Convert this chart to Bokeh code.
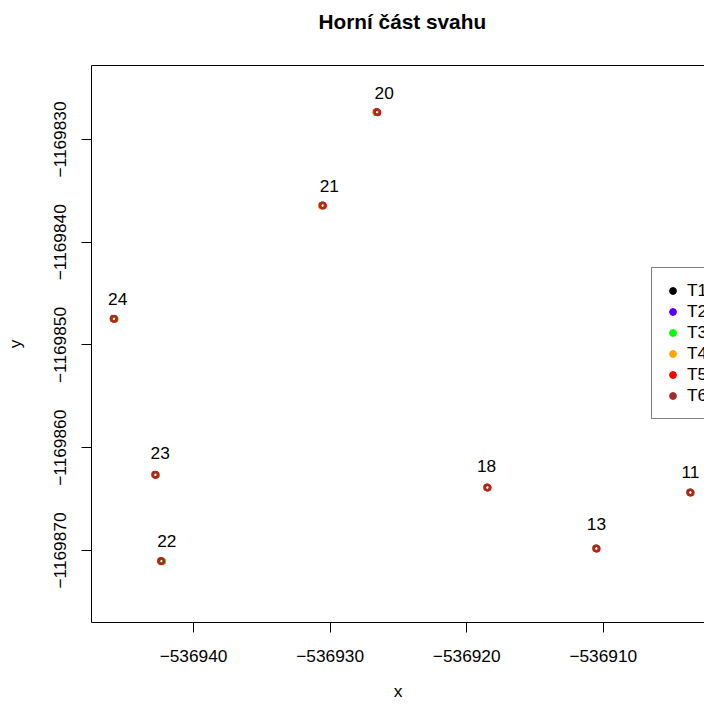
from bokeh.plotting import figure
from bokeh.models import (Range1d, FixedTicker, LinearAxis, Legend, LegendItem,
                          ColumnDataSource, Title)
from bokeh.core.properties import value
from bokeh.embed import file_html
from bokeh.resources import INLINE

# ---------------- data ----------------
point_ids = ["11", "13", "18", "20", "21", "22", "23", "24"]

T1_x = [-536903.62, -536910.50, -536918.48, -536926.60, -536930.58, -536942.36, -536942.80, -536945.84]
T1_y = [-1169864.36, -1169869.81, -1169863.87, -1169827.34, -1169836.42, -1169871.04, -1169862.63, -1169847.45]
T2_x = [-536903.62, -536910.50, -536918.48, -536926.58, -536930.56, -536942.34, -536942.80, -536945.80]
T2_y = [-1169864.36, -1169869.81, -1169863.87, -1169827.34, -1169836.42, -1169871.04, -1169862.63, -1169847.45]
T3_x = [-536903.60, -536910.49, -536918.47, -536926.56, -536930.54, -536942.28, -536942.76, -536945.76]
T3_y = [-1169864.36, -1169869.81, -1169863.87, -1169827.34, -1169836.42, -1169871.06, -1169862.63, -1169847.47]
T4_x = [-536903.66, -536910.55, -536918.53, -536926.64, -536930.62, -536942.40, -536942.84, -536945.88]
T4_y = [-1169864.36, -1169869.81, -1169863.87, -1169827.36, -1169836.44, -1169871.04, -1169862.63, -1169847.45]
T5_x = [-536903.60, -536910.48, -536918.46, -536926.53, -536930.51, -536942.34, -536942.76, -536945.81]
T5_y = [-1169864.38, -1169869.83, -1169863.89, -1169827.37, -1169836.45, -1169871.07, -1169862.66, -1169847.48]
T6_x = [-536903.65, -536910.53, -536918.51, -536926.58, -536930.56, -536942.39, -536942.81, -536945.86]
T6_y = [-1169864.33, -1169869.78, -1169863.84, -1169827.31, -1169836.39, -1169871.01, -1169862.60, -1169847.42]

label_x = [-536903.62, -536910.50, -536918.55, -536926.04, -536930.06, -536941.96, -536942.44, -536945.55]
label_y = [-1169862.41, -1169867.47, -1169861.73, -1169825.52, -1169834.48, -1169869.03, -1169860.49, -1169845.50]

series_names = ["T1", "T2", "T3", "T4", "T5", "T6"]
series_x = [T1_x, T2_x, T3_x, T4_x, T5_x, T6_x]
series_y = [T1_y, T2_y, T3_y, T4_y, T5_y, T6_y]
series_colors = ["#000000", "#5500FF", "#00FF00", "#FFA500", "#FF0000", "#A52A2A"]

x_ticks = [-536940, -536930, -536920, -536910]
y_ticks = [-1169830, -1169840, -1169850, -1169860, -1169870]

x_lim = (-536947.47, -536902.59)
y_lim = (-1169877.01, -1169822.80)

title_text = "Horní část svahu"
x_label_text = "x"
y_label_text = "y"
FONT = "Liberation Sans"
FS = "17.3px"

# ---------------- figure ----------------
p = figure(width=704, height=704, output_backend="svg", toolbar_location=None,
           x_range=Range1d(*x_lim), y_range=Range1d(*y_lim),
           min_border_left=91, min_border_right=0, min_border_top=65, min_border_bottom=82,
           x_axis_label=x_label_text, y_axis_label=y_label_text)
p.background_fill_color = "white"
p.border_fill_color = "white"
p.outline_line_color = None
p.grid.visible = False

def fmt(v):
    s = str(abs(int(v)))
    return ("\u2212" + s) if v < 0 else s

for ax in p.xaxis:
    ax.ticker = FixedTicker(ticks=x_ticks)
    ax.major_label_overrides = {t: fmt(t) for t in x_ticks}
for ax in p.yaxis:
    ax.ticker = FixedTicker(ticks=y_ticks)
    ax.major_label_overrides = {t: fmt(t) for t in y_ticks}
    ax.major_label_orientation = "vertical"

for ax in list(p.xaxis) + list(p.yaxis):
    ax.minor_tick_line_color = None
    ax.major_tick_out = 10
    ax.major_tick_in = 0
    ax.axis_line_color = "black"
    ax.major_tick_line_color = "black"
    ax.major_label_text_font = FONT
    ax.major_label_text_font_size = FS
    ax.major_label_text_color = "black"
    ax.axis_label_text_font = FONT
    ax.axis_label_text_font_size = FS
    ax.axis_label_text_font_style = "normal"
    ax.axis_label_text_color = "black"

p.xaxis.major_label_standoff = 17
p.xaxis.axis_label_standoff = 16
p.yaxis.major_label_standoff = 15
p.yaxis.axis_label_standoff = 27

# top border line
top = LinearAxis(ticker=FixedTicker(ticks=[]), major_label_text_font_size="0px",
                 major_tick_line_color=None, minor_tick_line_color=None,
                 axis_line_color="black")
p.add_layout(top, "above")
# spacer between the frame and the title
p.add_layout(Title(text=" ", text_font_size="1px", standoff=28), "above")
p.add_layout(Title(text=title_text, align="left", offset=227, text_font=FONT,
                   text_font_size="20.8px", text_font_style="bold", text_color="black",
                   vertical_align="top", standoff=0), "above")

# ---------------- points ----------------
legend_items = []
for name, xs, ys, col in zip(series_names, series_x, series_y, series_colors):
    src = ColumnDataSource(dict(x=xs, y=ys))
    p.scatter("x", "y", source=src, marker="circle", size=5.5, fill_color=None,
              line_color=col, line_width=2)
    # legend swatch renderer (filled dot), placed outside the visible range
    dummy = p.scatter(x=[x_lim[0] - 100], y=[y_lim[0] - 100], marker="circle",
                      fill_color=col, line_color=col, size=7)
    legend_items.append(LegendItem(label=name, renderers=[dummy]))

lab_src = ColumnDataSource(dict(x=label_x, y=label_y, t=point_ids))
p.text("x", "y", text="t", source=lab_src, text_align="center", text_baseline="middle",
       text_font=value(FONT), text_font_size=FS, text_color="black")

legend = Legend(items=legend_items, location=(560, 203), padding=12, spacing=0,
                glyph_width=17, glyph_height=17, label_height=17, label_standoff=6,
                label_text_font=FONT, label_text_font_size=FS, label_text_color="black",
                label_text_baseline="middle",
                border_line_color="black", border_line_width=1, background_fill_alpha=1,
                margin=0)
p.add_layout(legend, "center")

open("out.html", "w").write(file_html(p, INLINE))
